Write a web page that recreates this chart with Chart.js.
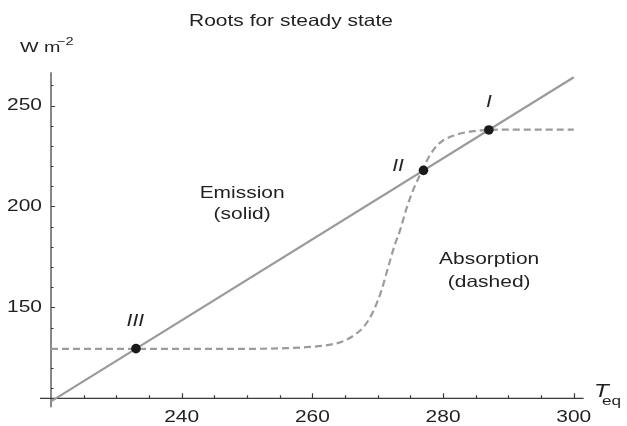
<!DOCTYPE html>
<html>
<head>
<meta charset="utf-8">
<script src="https://cdn.jsdelivr.net/npm/chart.js@4/dist/chart.umd.min.js"></script>
<style>
  html,body{margin:0;padding:0;background:#fff;}
  #wrap{width:627px;height:426px;}
</style>
</head>
<body>
<div id="wrap"><canvas id="roots" width="627" height="426"></canvas></div>
<script>
// Steady-state roots: linear emission vs. S-shaped absorption
const absT = [220, 250, 256, 259, 262, 264.5, 266.5, 268, 269.3, 270.6, 271.6, 272.6, 273.4, 274.3, 275.4, 276.8, 278, 279.5, 282, 284.6, 287, 290, 300];
const absW = [129.5, 129.5, 129.8, 130.3, 131.2, 133, 136.5, 141, 148, 158.8, 170, 181, 188, 198, 208, 217.8, 225.5, 231.5, 235.5, 237.3, 237.9, 238.1, 238.1];

const emisT = [220, 300];
const emisW = [103.5, 264];

const rootT = [287, 277, 233];
const rootW = [237.9, 217.9, 129.6];
const rootNames = ['I', 'II', 'III'];

const xTicks = [240, 260, 280, 300];
const yTicks = [150, 200, 250];

const FONT = '"Liberation Sans", Arial, Helvetica, sans-serif';
const SX = 1.27; // glyphs are set wide in this figure

function wideText(ctx, str, x, y, size, opts){
  opts = opts || {};
  ctx.save();
  ctx.font = (opts.italic ? 'italic ' : '') + size + 'px ' + FONT;
  ctx.fillStyle = opts.color || '#231f20';
  ctx.textAlign = opts.align || 'left';
  ctx.textBaseline = opts.baseline || 'alphabetic';
  ctx.translate(x, y);
  ctx.scale(SX, 1);
  ctx.fillText(str, 0, 0);
  ctx.restore();
}

const axesPlugin = {
  id: 'axesPlugin',
  beforeDatasetsDraw(chart){
    const {ctx, scales:{x, y}} = chart;
    const x0 = x.getPixelForValue(220), x1 = x.getPixelForValue(301.5);
    const y0 = y.getPixelForValue(105), y1 = y.getPixelForValue(266.5);
    ctx.save();
    ctx.strokeStyle = '#3a3a3a';
    ctx.lineWidth = 1.2;
    ctx.beginPath();
    ctx.moveTo(x0 - 11, y0); ctx.lineTo(x1, y0);
    ctx.moveTo(x0, y1); ctx.lineTo(x0, y0 + 9);
    // x ticks every 5, pointing up into the plot
    for (let v = 225; v <= 300; v += 5){
      const px = Math.round(x.getPixelForValue(v)) + 0.5;
      const len = xTicks.includes(v) ? 5 : 3;
      ctx.moveTo(px, y0); ctx.lineTo(px, y0 - len);
    }
    // y ticks every 10, pointing right
    for (let v = 110; v <= 260; v += 10){
      const py = Math.round(y.getPixelForValue(v)) + 0.5;
      const len = yTicks.includes(v) ? 4 : 2.5;
      ctx.moveTo(x0, py); ctx.lineTo(x0 + len, py);
    }
    ctx.stroke();
    ctx.restore();
  },
  afterDraw(chart){
    const {ctx, scales:{x, y}} = chart;
    const y0 = y.getPixelForValue(105);
    const x0 = x.getPixelForValue(220);

    xTicks.forEach(v => wideText(ctx, String(v), x.getPixelForValue(v), y0 + 23.5, 16.5, {align:'center'}));
    yTicks.forEach(v => wideText(ctx, String(v), x0 - 9, y.getPixelForValue(v), 16.5, {align:'right', baseline:'middle'}));

    // title and axis names
    wideText(ctx, 'Roots for steady state', 291, 26, 16.5, {align:'center'});
    wideText(ctx, 'W m', 20, 52, 15.5);
    wideText(ctx, '\u22122', 57, 45, 11.5);
    wideText(ctx, 'T', 594, 397, 19, {italic:true});
    wideText(ctx, 'eq', 602, 405, 13.5);

    // curve captions
    const cap = (s, tv, wv) => wideText(ctx, s, x.getPixelForValue(tv), y.getPixelForValue(wv), 16.5, {align:'center'});
    cap('Emission', 249.25, 204.2);
    cap('(solid)', 249.25, 193.9);
    cap('Absorption', 287.05, 171.6);
    cap('(dashed)', 287.05, 160.2);

    // root labels
    const romanPos = [[287.0, 251.4], [273.1, 219.8], [232.9, 142.9]];
    rootNames.forEach((n, i) => wideText(ctx, n, x.getPixelForValue(romanPos[i][0]), y.getPixelForValue(romanPos[i][1]), 16.5, {italic:true, align:'center', baseline:'middle'}));
  }
};

new Chart(document.getElementById('roots'), {
  type: 'scatter',
  data: {
    datasets: [
      {
        label: 'Emission',
        data: emisT.map((t, i) => ({x: t, y: emisW[i]})),
        showLine: true, borderColor: '#9a9a9a', borderWidth: 2.2,
        pointRadius: 0, clip: false, order: 3
      },
      {
        label: 'Absorption',
        data: absT.map((t, i) => ({x: t, y: absW[i]})),
        showLine: true, borderColor: '#9b9ba3', borderWidth: 2.2, borderDash: [7, 4],
        cubicInterpolationMode: 'monotone', pointRadius: 0, clip: false, order: 2
      },
      {
        label: 'Roots',
        data: rootT.map((t, i) => ({x: t, y: rootW[i]})),
        showLine: false, pointRadius: 4.8, pointBackgroundColor: '#1b1b1b',
        pointBorderColor: '#1b1b1b', pointBorderWidth: 0, clip: false, order: 1
      }
    ]
  },
  options: {
    responsive: false, animation: false, devicePixelRatio: 1,
    layout: {padding: {left: 51, right: 43.4, top: 72.2, bottom: 27.7}},
    plugins: {legend: {display: false}, tooltip: {enabled: false}, title: {display: false}},
    scales: {
      x: {type: 'linear', min: 220, max: 301.5, display: false},
      y: {type: 'linear', min: 105, max: 266.5, display: false}
    }
  },
  plugins: [axesPlugin]
});
</script>
</body>
</html>
